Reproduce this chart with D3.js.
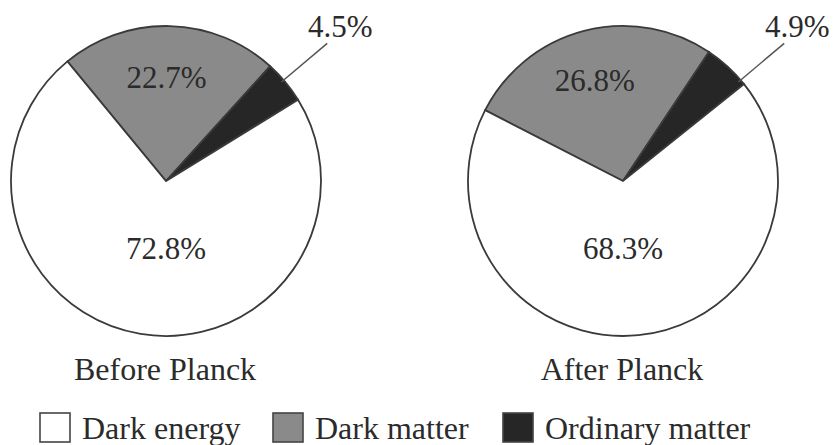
<!DOCTYPE html>
<html>
<head>
<meta charset="utf-8">
<script src="https://cdn.jsdelivr.net/npm/d3@7"></script>
<style>
  body { margin: 0; background: #fff; }
  text { font-family: "Liberation Serif", "Times New Roman", serif; fill: #2b2b2b; }
</style>
</head>
<body>
<script>
// data
var categories = ["Dark matter", "Ordinary matter", "Dark energy"];
var beforeValues = [22.7, 4.5, 72.8];
var afterValues = [26.8, 4.9, 68.3];
var pieTitles = ["Before Planck", "After Planck"];
var legendOrder = ["Dark energy", "Dark matter", "Ordinary matter"];

var width = 839, height = 445;
var radius = 155;
var fontSize = 32, labelSize = 31;

var color = d3.scaleOrdinal()
  .domain(categories)
  .range(["#8a8a8a", "#262626", "#ffffff"]);

var svg = d3.select("body").append("svg")
  .attr("width", width)
  .attr("height", height);

var pies = [
  {title: pieTitles[0], values: beforeValues, cx: 166, cy: 181, start: -39.5},
  {title: pieTitles[1], values: afterValues, cx: 623, cy: 181, start: -62.8}
];

var arc = d3.arc().innerRadius(0).outerRadius(radius);
var rad = Math.PI / 180;
var leaderAngle = 49.5 * rad;

pies.forEach(function(p) {
  var slices = d3.pie().sort(null).value(function(d) { return d.value; })
    .startAngle(p.start * rad).endAngle(p.start * rad + 2 * Math.PI)(
      p.values.map(function(v, i) { return {name: categories[i], value: v}; }));

  var g = svg.append("g").attr("transform", "translate(" + p.cx + "," + p.cy + ")");

  g.selectAll("path").data(slices).enter()
    .append("path")
    .attr("d", arc)
    .attr("fill", function(d) { return color(d.data.name); })
    .attr("stroke", "#3a3a3a")
    .attr("stroke-width", 1.8);

  slices.forEach(function(d) {
    var mid = (d.startAngle + d.endAngle) / 2;
    var label = d.data.value.toFixed(1) + "%";
    if (d.data.name === "Dark matter") {
      var r = 104;
      g.append("text")
        .attr("x", Math.sin(mid) * r - 2)
        .attr("y", -Math.cos(mid) * r + 11)
        .attr("text-anchor", "middle")
        .style("font-size", labelSize + "px")
        .text(label);
    } else if (d.data.name === "Dark energy") {
      g.append("text")
        .attr("x", 0)
        .attr("y", 78)
        .attr("text-anchor", "middle")
        .style("font-size", labelSize + "px")
        .text(label);
    } else {
      var x1 = Math.sin(leaderAngle) * (radius + 2), y1 = -Math.cos(leaderAngle) * (radius + 2);
      var x2 = Math.sin(leaderAngle) * (radius + 57) , y2 = -Math.cos(leaderAngle) * (radius + 57);
      g.append("line")
        .attr("x1", x1 - 4).attr("y1", y1 + 3)
        .attr("x2", x2).attr("y2", y2)
        .attr("stroke", "#555")
        .attr("stroke-width", 1.5);
      g.append("text")
        .attr("x", x2 + 13)
        .attr("y", y2 - 6)
        .attr("text-anchor", "middle")
        .style("font-size", labelSize + "px")
        .text(label);
    }
  });

  svg.append("text")
    .attr("x", p.cx - 1)
    .attr("y", 380)
    .attr("text-anchor", "middle")
    .style("font-size", fontSize + "px")
    .text(p.title);
});

// legend
var legendX = [40, 273, 503];
var legend = svg.selectAll(".legend").data(legendOrder).enter()
  .append("g")
  .attr("class", "legend")
  .attr("transform", function(d, i) { return "translate(" + legendX[i] + ",413)"; });

legend.append("rect")
  .attr("width", 30).attr("height", 29)
  .attr("fill", function(d) { return color(d); })
  .attr("stroke", "#444")
  .attr("stroke-width", 1.6);

legend.append("text")
  .attr("x", 42)
  .attr("y", 26)
  .style("font-size", fontSize + "px")
  .text(function(d) { return d; });
</script>
</body>
</html>
